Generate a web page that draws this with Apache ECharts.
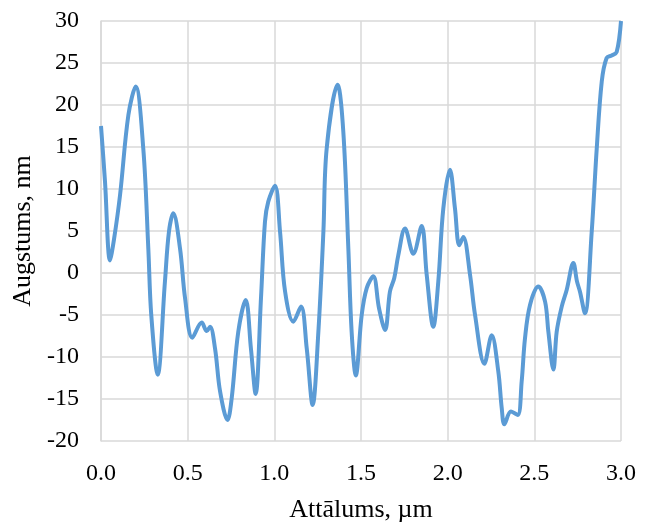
<!DOCTYPE html>
<html>
<head>
<meta charset="utf-8">
<title>Augstums</title>
<script src="https://cdn.jsdelivr.net/npm/echarts@6/dist/echarts.min.js"></script>
<style>
html, body { margin: 0; padding: 0; background: #fff; }
#chart { width: 648px; height: 529px; }
</style>
</head>
<body>
<div id="chart"></div>
<script>
'use strict';

// attalums, um
var xVals = [0, 0.023, 0.052, 0.075, 0.11, 0.158, 0.2, 0.244, 0.273, 0.29, 0.327, 0.369, 0.392, 0.417,
	0.456, 0.485, 0.527, 0.581, 0.61, 0.629, 0.658, 0.687, 0.73, 0.754, 0.792, 0.835, 0.865, 0.892,
	0.923, 0.946, 0.965, 1.004, 1.033, 1.062, 1.11, 1.154, 1.187, 1.221, 1.254, 1.283, 1.302, 1.365,
	1.398, 1.427, 1.446, 1.47, 1.504, 1.533, 1.571, 1.604, 1.639, 1.667, 1.692, 1.715, 1.754, 1.802,
	1.85, 1.879, 1.917, 1.946, 1.975, 2.013, 2.042, 2.067, 2.09, 2.129, 2.158, 2.212, 2.254, 2.292,
	2.312, 2.327, 2.365, 2.404, 2.427, 2.446, 2.475, 2.523, 2.562, 2.581, 2.61, 2.629, 2.658, 2.687,
	2.725, 2.746, 2.763, 2.792, 2.831, 2.86, 2.889, 2.917, 2.946, 2.975, 3.0];
// augstums, nm
var yVals = [17.5, 10.9, 1.5, 4, 9.3, 18.8, 22.2, 14.8, 2.9, -5, -12.1, -1.0, 4.9, 7.1,
	2.9, -3.0, -7.7, -5.9, -6.9, -6.4, -9.0, -14.1, -17.5, -14.9, -7.0, -3.2, -9.0, -14.4,
	-3.0, 6.1, 8.5, 10.4, 4.9, -2.2, -5.8, -4.0, -9.0, -15.7, -7.0, 4.9, 14.8, 22.4,
	16.8, 2.9, -7.0, -12.2, -5.0, -1.8, -0.4, -4.2, -6.8, -2.2, -0.6, 2.1, 5.3, 2.3,
	5.6, -0.2, -6.4, -1.0, 7.7, 12.3, 7.7, 3.3, 4.3, -0.2, -5.0, -10.8, -7.4, -11.7,
	-16.1, -18.0, -16.5, -16.9, -12.9, -7.8, -3.8, -1.6, -3.4, -7.0, -11.5, -7.0, -4.0, -2.0,
	1.2, -1.0, -2.2, -4.8, 4.9, 14.8, 22.8, 25.6, 25.9, 26.3, 30];

var xTicks = [0, 0.5, 1.0, 1.5, 2.0, 2.5, 3.0];
var yTicks = [-20, -15, -10, -5, 0, 5, 10, 15, 20, 25, 30];

var points = [];
for (var i = 0; i < xVals.length; i++) {
	points.push([xVals[i], yVals[i]]);
}

var fontFam = '"Liberation Serif", "DejaVu Serif", serif';
var gridColor = '#d9d9d9';

var myChart = echarts.init(document.getElementById('chart'));
var option = {
	animation : false,
	grid : {
		left : 101,
		right : 27,
		top : 21,
		bottom : 88
	},
	xAxis : {
		type : 'value',
		min : xTicks[0],
		max : xTicks[xTicks.length - 1],
		interval : 0.5,
		name : 'Attālums, µm',
		nameLocation : 'middle',
		nameGap : 56,
		nameTextStyle : { color : '#000', fontFamily : fontFam, fontSize : 26 },
		axisLine : { show : true, lineStyle : { color : gridColor, width : 1.5 } },
		axisTick : { show : false },
		splitLine : { show : true, lineStyle : { color : gridColor, width : 1.5 } },
		axisLabel : {
			color : '#000',
			fontFamily : fontFam,
			fontSize : 24,
			margin : 21,
			formatter : function(v) { return v.toFixed(1); }
		}
	},
	yAxis : {
		type : 'value',
		min : yTicks[0],
		max : yTicks[yTicks.length - 1],
		interval : 5,
		name : 'Augstums, nm',
		nameLocation : 'middle',
		nameGap : 64,
		nameTextStyle : { color : '#000', fontFamily : fontFam, fontSize : 26 },
		axisLine : { show : true, lineStyle : { color : gridColor, width : 1.5 } },
		axisTick : { show : false },
		splitLine : { show : true, lineStyle : { color : gridColor, width : 1.5 } },
		axisLabel : {
			color : '#000',
			fontFamily : fontFam,
			fontSize : 24,
			margin : 22
		}
	},
	series : [ {
		type : 'line',
		data : points,
		smooth : 0.35,
		showSymbol : false,
		clip : true,
		lineStyle : { color : '#5b9bd5', width : 4 }
	} ]
};
myChart.setOption(option);
</script>
</body>
</html>
